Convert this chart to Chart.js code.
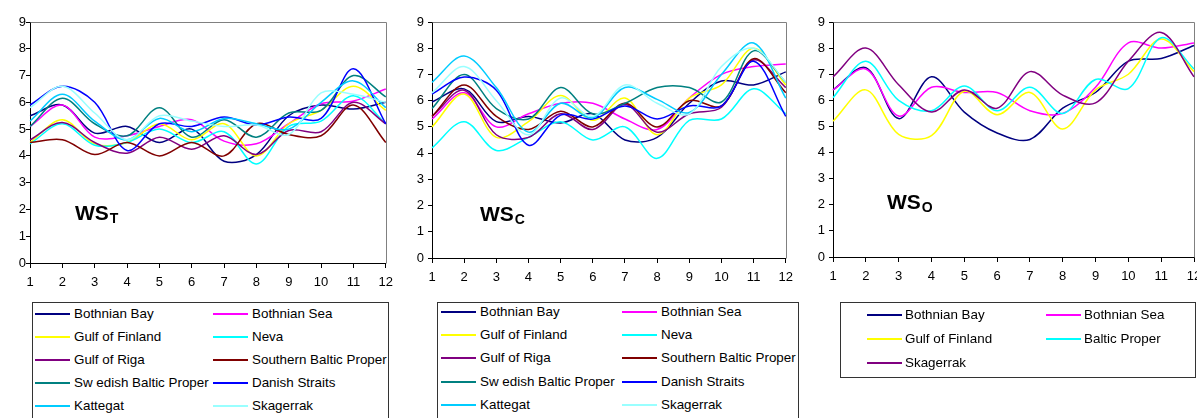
<!DOCTYPE html>
<html>
<head>
<meta charset="utf-8">
<script src="https://cdn.jsdelivr.net/npm/chart.js@4/dist/chart.umd.min.js"></script>
<style>
  html, body { margin: 0; padding: 0; }
  body {
    width: 1197px; height: 418px; overflow: hidden; position: relative;
    background: #fff; font-family: "Liberation Sans", Arial, sans-serif; color: #000;
  }
  canvas { position: absolute; }
  .legend { position: absolute; border: 1px solid #333; box-sizing: border-box; background: #fff; overflow: hidden; }
  .legend .swatch { position: absolute; height: 2px; }
  .legend .label { position: absolute; font-size: 13.4px; line-height: 15px; white-space: nowrap; }
  .tag { position: absolute; font-weight: bold; font-size: 21px; line-height: 21px; white-space: nowrap; }
  .tag .sub { font-size: 14px; position: relative; top: 3px; margin-left: 1px; }
</style>
</head>
<body>
<canvas id="cT" width="400" height="290" style="left:0;top:0"></canvas>
<canvas id="cC" width="400" height="290" style="left:400px;top:0"></canvas>
<canvas id="cO" width="410" height="290" style="left:800px;top:0"></canvas>

<div class="tag" style="left:75px;top:202px">WS<span class="sub">T</span></div>
<div class="tag" style="left:480px;top:203px">WS<span class="sub">C</span></div>
<div class="tag" style="left:887px;top:191px">WS<span class="sub">O</span></div>

<div id="legT" class="legend" style="left:32px;top:302px;width:357px;height:130px"></div>
<div id="legC" class="legend" style="left:437px;top:302px;width:362px;height:130px"></div>
<div id="legO" class="legend" style="left:840px;top:302px;width:356px;height:76px"></div>

<script>
// Months on the x axis
const months = ['1', '2', '3', '4', '5', '6', '7', '8', '9', '10', '11', '12'];
const yTicks = [0, 1, 2, 3, 4, 5, 6, 7, 8, 9];

// Sub-basins shown in the WS_T and WS_C panels
const basins = [
  'Bothnian Bay', 'Bothnian Sea', 'Gulf of Finland', 'Neva', 'Gulf of Riga',
  'Southern Baltic Proper', 'Sw edish Baltic Proper', 'Danish Straits', 'Kattegat', 'Skagerrak'
];
const basinColors = [
  '#000080', '#ff00ff', '#ffff00', '#00ffff', '#800080',
  '#800000', '#008080', '#0000ff', '#00ccff', '#99ffff'
];

// Basins shown in the WS_O panel
const seaAreas = ['Bothnian Bay', 'Bothnian Sea', 'Gulf of Finland', 'Baltic Proper', 'Skagerrak'];
const seaColors = ['#000080', '#ff00ff', '#ffff00', '#00ffff', '#800080'];

// Monthly mean wind speed, one row per basin (same order as the name lists)
const wsT = [
  [5.5, 5.9, 4.85, 5.1, 4.5, 5.0, 3.8, 4.05, 5.5, 5.9, 5.75, 6.0],
  [5.1, 5.9, 4.7, 4.75, 5.1, 5.35, 4.55, 4.45, 5.2, 5.95, 6.05, 6.5],
  [4.5, 5.35, 4.45, 4.5, 5.2, 4.6, 5.2, 4.0, 5.2, 5.7, 6.6, 5.7],
  [4.45, 5.2, 4.4, 4.5, 5.0, 4.5, 4.9, 3.7, 5.1, 5.3, 6.25, 5.2],
  [4.6, 5.25, 4.5, 4.1, 4.7, 4.25, 4.75, 4.05, 4.95, 4.9, 6.0, 5.2],
  [4.5, 4.6, 4.05, 4.5, 4.0, 4.5, 4.0, 5.2, 4.8, 4.75, 5.9, 4.5],
  [5.1, 6.15, 5.2, 4.75, 5.8, 4.7, 5.35, 4.7, 5.6, 5.7, 7.0, 6.2],
  [5.9, 6.6, 6.0, 4.2, 5.2, 5.1, 5.45, 5.15, 5.45, 5.4, 7.25, 5.2],
  [5.3, 6.3, 5.3, 4.6, 5.4, 4.9, 5.4, 5.2, 5.0, 6.0, 6.8, 5.8],
  [5.8, 6.6, 5.6, 4.6, 5.5, 5.3, 5.1, 5.15, 4.8, 6.35, 6.3, 6.0]
];
const wsC = [
  [5.95, 6.45, 5.2, 5.4, 5.15, 5.5, 4.5, 4.6, 5.9, 6.75, 6.6, 7.1],
  [5.3, 6.3, 5.0, 5.5, 5.9, 5.9, 5.3, 4.9, 6.1, 7.0, 7.3, 7.4],
  [5.0, 6.25, 4.6, 5.2, 6.2, 5.25, 6.1, 4.7, 6.1, 6.6, 8.0, 6.6],
  [4.2, 5.2, 4.1, 4.6, 5.2, 4.5, 5.0, 3.8, 5.25, 5.3, 6.45, 5.5],
  [5.4, 6.4, 4.7, 4.6, 5.5, 4.9, 5.85, 4.8, 5.5, 5.75, 7.55, 6.5],
  [5.4, 6.6, 5.4, 4.9, 5.6, 5.0, 5.9, 5.0, 6.0, 5.8, 7.6, 6.3],
  [5.7, 7.0, 5.7, 5.3, 6.5, 5.5, 5.9, 6.5, 6.5, 5.95, 7.9, 6.7],
  [6.25, 6.9, 6.4, 4.3, 5.45, 5.3, 5.8, 5.3, 5.8, 5.8, 7.5, 5.4],
  [6.7, 7.7, 6.5, 4.8, 5.9, 5.35, 6.5, 6.05, 5.55, 7.0, 8.2, 6.1],
  [6.3, 7.3, 6.0, 4.7, 6.1, 5.4, 6.6, 5.9, 5.5, 7.3, 8.0, 6.7]
];
const wsO = [
  [6.4, 7.25, 5.3, 6.9, 5.55, 4.75, 4.5, 5.7, 6.3, 7.5, 7.6, 8.1],
  [6.4, 7.2, 5.4, 6.5, 6.3, 6.3, 5.6, 5.5, 6.5, 8.2, 8.0, 8.2],
  [5.2, 6.4, 4.7, 4.65, 6.35, 5.45, 6.3, 4.9, 6.4, 7.0, 8.35, 7.1],
  [6.1, 7.5, 6.0, 5.6, 6.55, 5.6, 6.5, 5.5, 6.8, 6.45, 8.4, 7.2],
  [6.9, 8.0, 6.6, 5.55, 6.4, 5.7, 7.1, 6.2, 5.9, 7.5, 8.6, 6.9]
];

// Gray frame along the top and right of the plot area
const plotFrame = {
  id: 'plotFrame',
  beforeDatasetsDraw(chart) {
    const a = chart.chartArea, ctx = chart.ctx;
    ctx.save();
    ctx.strokeStyle = '#808080';
    ctx.lineWidth = 1;
    ctx.beginPath();
    ctx.moveTo(Math.round(a.left) + 0.5, Math.round(a.top) + 0.5);
    ctx.lineTo(Math.round(a.right) + 0.5, Math.round(a.top) + 0.5);
    ctx.lineTo(Math.round(a.right) + 0.5, Math.round(a.bottom) + 0.5);
    ctx.stroke();
    ctx.restore();
  }
};

function drawPanel(id, rows, names, colors, geo) {
  const datasets = rows.map((vals, i) => ({
    label: names[i],
    data: vals,
    borderColor: colors[i],
    backgroundColor: colors[i],
    borderWidth: 1.5,
    pointRadius: 0,
    tension: 0.34,
    fill: false,
    order: rows.length - i
  }));
  const tickFont = { family: '"Liberation Sans", Arial, sans-serif', size: 13 };
  new Chart(document.getElementById(id), {
    type: 'line',
    data: { labels: months, datasets },
    plugins: [plotFrame],
    options: {
      responsive: false,
      animation: false,
      devicePixelRatio: 1,
      events: [],
      layout: { padding: { top: geo.top, right: geo.right, left: 0, bottom: 0 } },
      plugins: { legend: { display: false }, tooltip: { enabled: false } },
      scales: {
        x: {
          offset: false,
          grid: { display: true, drawOnChartArea: false, drawTicks: true, tickLength: 5, color: '#000' },
          border: { display: true, color: '#000', width: 1 },
          ticks: { color: '#000', font: tickFont, padding: 7, maxRotation: 0, autoSkip: false },
          afterFit: s => { s.height = geo.xh; }
        },
        y: {
          min: yTicks[0],
          max: yTicks[yTicks.length - 1],
          afterBuildTicks: s => { s.ticks = yTicks.map(v => ({ value: v })); },
          grid: { display: true, drawOnChartArea: false, drawTicks: true, tickLength: 4, color: '#000' },
          border: { display: true, color: '#000', width: 1 },
          ticks: { color: '#000', font: tickFont, padding: geo.ypad },
          afterFit: s => { s.width = geo.yw; }
        }
      }
    }
  });
}

drawPanel('cT', wsT, basins, basinColors, { top: 22, right: 10, xh: 27, yw: 30, ypad: 0 });
drawPanel('cC', wsC, basins, basinColors, { top: 22, right: 8, xh: 32, yw: 32, ypad: 4 });
drawPanel('cO', wsO, seaAreas, seaColors, { top: 22, right: 16, xh: 33, yw: 33, ypad: 4 });

// Two-column legend boxes below each panel
function buildLegend(id, names, colors, g) {
  const box = document.getElementById(id);
  names.forEach((name, i) => {
    const col = i % 2, row = Math.floor(i / 2);
    const cy = g.y0 + row * g.dy;
    const sw = document.createElement('div');
    sw.className = 'swatch';
    sw.style.left = g.sx[col] + 'px';
    sw.style.width = g.sw + 'px';
    sw.style.top = (cy - 1) + 'px';
    sw.style.background = colors[i];
    box.appendChild(sw);
    const lb = document.createElement('div');
    lb.className = 'label';
    lb.style.left = g.tx[col] + 'px';
    lb.style.top = (cy - 8) + 'px';
    lb.textContent = name;
    box.appendChild(lb);
  });
}
buildLegend('legT', basins, basinColors, { y0: 10.5, dy: 23.2, sx: [2, 180], sw: 35, tx: [41, 219] });
buildLegend('legC', basins, basinColors, { y0: 9, dy: 23.2, sx: [3, 184], sw: 35, tx: [42, 223] });
buildLegend('legO', seaAreas, seaColors, { y0: 11.5, dy: 24, sx: [26, 205], sw: 35, tx: [64, 243] });
</script>
</body>
</html>
